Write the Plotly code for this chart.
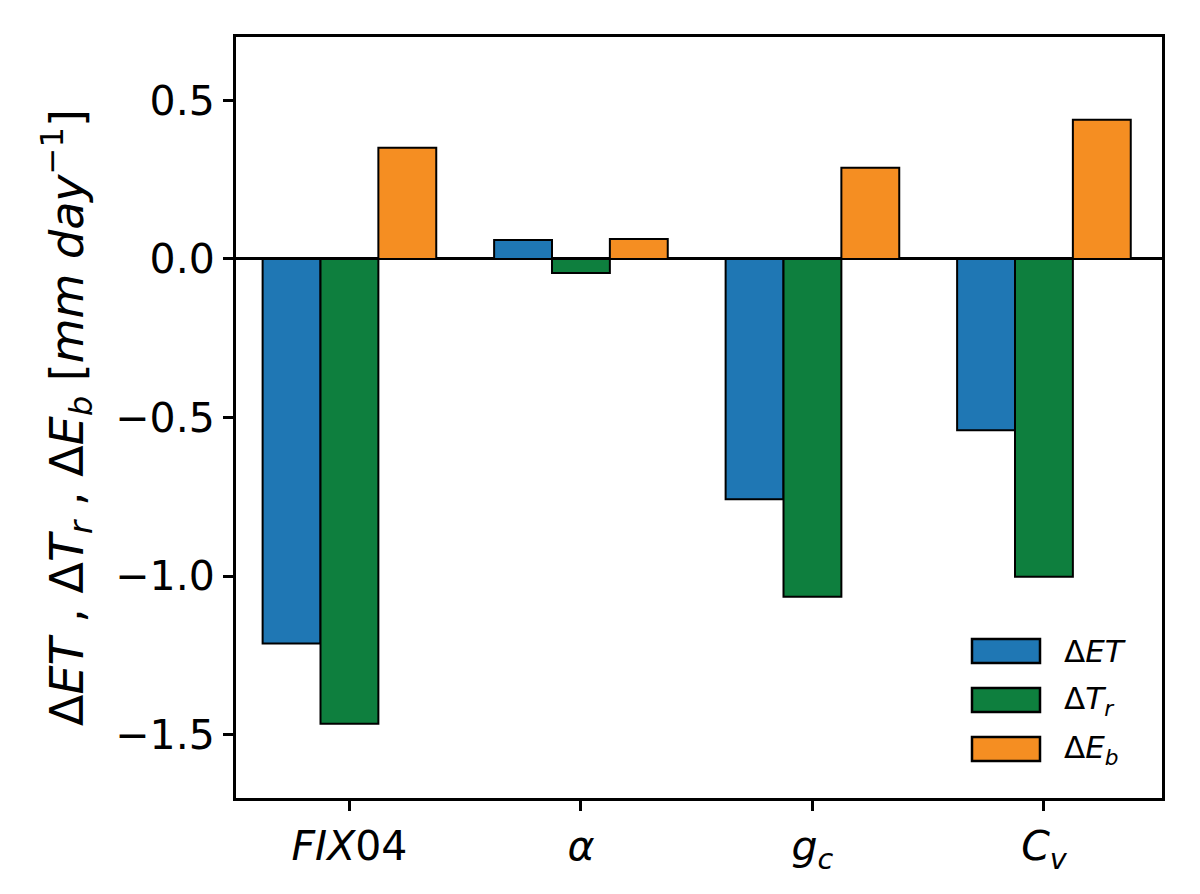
import plotly.graph_objects as go

categories = ["<i>FIX</i>04", "<i>α</i>", "<i>g<sub>c</sub></i>", "<i>C<sub>v</sub></i>"]
x_pos = [0, 1, 2, 3]
delta_et = [-1.213, 0.060, -0.758, -0.540]
delta_tr = [-1.466, -0.044, -1.065, -1.002]
delta_eb = [0.351, 0.063, 0.288, 0.439]

series_names = ["Δ<i>ET</i>", "Δ<i>T<sub>r</sub></i>", "Δ<i>E<sub>b</sub></i>"]
series_values = [delta_et, delta_tr, delta_eb]
series_colors = ["#1f77b4", "#0e7f3e", "#f58e22"]
offsets = [-0.25, 0.0, 0.25]

W, H = 1200, 894
L, R, T, B = 228, 46, 29, 104
pw, ph = W - L - R, H - T - B

fig = go.Figure()
for name, vals, color, off in zip(series_names, series_values, series_colors, offsets):
    fig.add_trace(go.Bar(
        x=[p + off for p in x_pos], y=vals, name=name, width=0.25,
        marker=dict(color=color, line=dict(color="black", width=2)),
        showlegend=False,
    ))

# legend drawn as wide patches (matplotlib style)
def px_x(px):
    return (px - 8 - L) / pw

def px_y(py):
    return (H - B - (py - 8)) / ph

legend_rows = [651, 700, 749]
for name, color, cy in zip(series_names, series_colors, legend_rows):
    fig.add_shape(type="rect", xref="paper", yref="paper",
                  x0=px_x(972), x1=px_x(1040), y0=px_y(cy + 12), y1=px_y(cy - 12),
                  fillcolor=color, line=dict(color="black", width=2.5))
    fig.add_annotation(xref="paper", yref="paper", x=px_x(1062), y=px_y(cy),
                       text=name, showarrow=False, xanchor="left", yanchor="middle",
                       font=dict(size=31, color="black"))

fig.update_layout(
    width=W, height=H,
    paper_bgcolor="white", plot_bgcolor="white",
    margin=dict(l=L, r=R, t=T, b=B),
    font=dict(family="DejaVu Sans", size=41, color="black"),
    barmode="overlay",
    showlegend=False,
)
fig.update_xaxes(
    range=[-0.49, 3.51], tickmode="array", tickvals=x_pos, ticktext=categories,
    showline=True, linecolor="black", linewidth=3, mirror=True,
    ticks="outside", ticklen=10, tickwidth=2.5, tickcolor="black",
    showgrid=False, zeroline=False, tickfont=dict(size=41),
)
fig.update_yaxes(
    range=[-1.7, 0.7], tickmode="array", tickvals=[-1.5, -1.0, -0.5, 0.0, 0.5],
    ticktext=["−1.5", "−1.0", "−0.5", "0.0", "0.5"],
    showline=True, linecolor="black", linewidth=3, mirror=True,
    ticks="outside", ticklen=10, tickwidth=2.5, tickcolor="black",
    showgrid=False, zeroline=True, zerolinecolor="black", zerolinewidth=2.5,
    tickfont=dict(size=41),
    title=dict(text="Δ<i>ET</i> , Δ<i>T<sub>r</sub></i> , Δ<i>E<sub>b</sub></i> [<i>mm day</i><sup>−1</sup>]",
               font=dict(size=46), standoff=18),
)

fig.write_html("out.html")
